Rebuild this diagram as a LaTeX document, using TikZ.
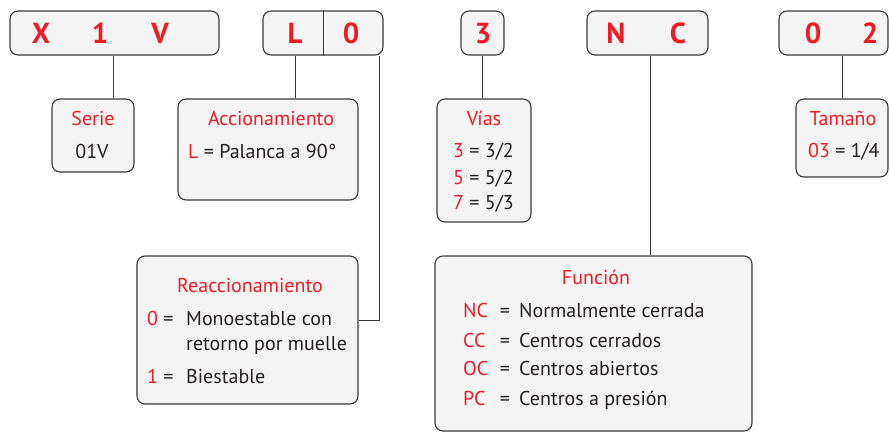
\documentclass[tikz,border=0pt]{standalone}
\usepackage{fontspec}
\setmainfont{PT Sans}
\definecolor{cred}{RGB}{237,28,36}
\definecolor{cfill}{RGB}{244,244,244}
\definecolor{cline}{RGB}{58,58,58}
\definecolor{ctext}{RGB}{35,31,32}

\begin{document}
\begin{tikzpicture}[x=1pt,y=-1pt,
  box/.style={draw=cline,line width=1.1pt,fill=cfill,rounded corners=8pt,inner sep=0pt},
  code/.style={text=cred,font=\fontsize{29}{29}\selectfont\bfseries,anchor=base,inner sep=0pt},
  title/.style={text=cred,font=\fontsize{20}{20}\selectfont,anchor=base,inner sep=0pt},
  txt/.style={text=ctext,font=\fontsize{20}{20}\selectfont,anchor=base west,inner sep=0pt},
  link/.style={draw=cline,line width=0.9pt}]
\useasboundingbox (0,0) rectangle (889,432);
% code boxes
\node[box,minimum width=209,minimum height=44] (xiv) at (114.5,33) {};
\node[box,minimum width=120,minimum height=44] (lo) at (323,33) {};
\node[box,minimum width=43,minimum height=44] (tres) at (482.5,33) {};
\node[box,minimum width=121,minimum height=44] (nc) at (647.5,33) {};
\node[box,minimum width=109,minimum height=44] (dos) at (833.5,33) {};
\draw[cline,line width=0.8pt] (lo.north) -- (lo.south);
\node[code] (cX) at (41,43) {X};
\node[code] (c1) at (100,43) {1};
\node[code] (cV) at (160,43) {V};
\node[code] (cL) at (295,43) {L};
\node[code] (c0) at (351,43) {0};
\node[code] (c3) at (483,43) {3};
\node[code] (cN) at (616,43) {N};
\node[code] (cC) at (678,43) {C};
\node[code] (c0b) at (813,43) {0};
\node[code] (c2) at (870,43) {2};
% description boxes
\node[box,minimum width=82,minimum height=73] (serie) at (93,135.5) {};
\node[box,minimum width=180,minimum height=101] (acc) at (268,149.5) {};
\node[box,minimum width=94,minimum height=123] (vias) at (484,160.5) {};
\node[box,minimum width=92,minimum height=78] (tam) at (842,138) {};
\node[box,minimum width=221,minimum height=148] (reac) at (247.5,330) {};
\node[box,minimum width=317,minimum height=175] (func) at (593.5,343.5) {};
% connectors
\draw[link] ([xshift=-1.5]xiv.south) -- ([xshift=-1.5]xiv.south |- serie.north);
\draw[link] (cL |- lo.south) -- (cL |- acc.north);
\draw[link] (tres.south) -- (tres.south |- vias.north);
\draw[link] ([xshift=2.5]nc.south) -- ([xshift=2.5]nc.south |- func.north);
\draw[link] (tam.north |- dos.south) -- (tam.north);
\draw[link] ([xshift=-4]lo.south east) |- ([yshift=10pt]reac.east);
% texts
\node[title] (tserie) at (93,125) {Serie};
\node[title,text=ctext] (vserie) at (92,158) {01V};
\node[title] (tacc) at (271,125) {Accionamiento};
\node[txt] (vacc) at (188,158) {\textcolor{cred}{L} = Palanca a 90°};
\node[title] (tvias) at (484,125) {Vías};
\node[txt] (v3) at (453,157) {\textcolor{cred}{3} = 3/2};
\node[txt] (v5) at (453,184) {\textcolor{cred}{5} = 5/2};
\node[txt] (v7) at (453,209) {\textcolor{cred}{7} = 5/3};
\node[title] (ttam) at (843,125) {Tamaño};
\node[txt] (v03) at (808,157) {\textcolor{cred}{03} = 1/4};
\node[title] (treac) at (250,292) {Reaccionamiento};
\node[txt] (k0) at (147,325) {\textcolor{cred}{0} =};
\node[txt] (r0) at (186,325) {Monoestable con};
\node[txt] (r0b) at (186,350) {retorno por muelle};
\node[txt] (k1) at (147,383) {\textcolor{cred}{1} =};
\node[txt] (r1) at (186,383) {Biestable};
\node[title] (tfunc) at (596,284) {Función};
\node[txt,text=cred] (kNC) at (463,317) {NC};
\node[txt,text=cred] (kCC) at (463,347) {CC};
\node[txt,text=cred] (kOC) at (463,375) {OC};
\node[txt,text=cred] (kPC) at (463,405) {PC};
\node[title,text=ctext] (eNC) at (505,317) {=};
\node[title,text=ctext] (eCC) at (505,347) {=};
\node[title,text=ctext] (eOC) at (505,375) {=};
\node[title,text=ctext] (ePC) at (505,405) {=};
\node[txt] (fNC) at (519,317) {Normalmente cerrada};
\node[txt] (fCC) at (519,347) {Centros cerrados};
\node[txt] (fOC) at (519,375) {Centros abiertos};
\node[txt] (fPC) at (519,405) {Centros a presión};
\end{tikzpicture}
\end{document}
